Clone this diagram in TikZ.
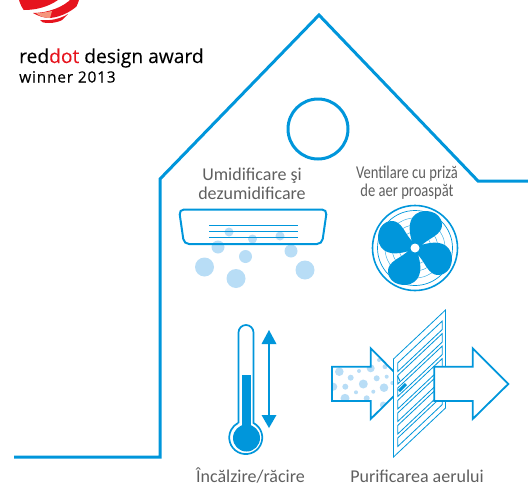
\documentclass[tikz,border=0pt]{standalone}
\usepackage{fontspec}
\setmainfont{Carlito}
\newfontfamily\logofont[FakeBold=0.12]{Open Sans}
\newfontfamily\logospaced[LetterSpace=5,FakeBold=0.12]{Open Sans}
\definecolor{hb}{RGB}{0,150,219}
\definecolor{lb}{RGB}{184,221,246}
\definecolor{tg}{RGB}{95,95,95}
\definecolor{rd}{RGB}{230,20,30}
\definecolor{rl}{RGB}{245,150,125}
\tikzset{
 wall/.style={draw=hb,line width=3pt,line join=miter},
 blob/.style={fill=lb,draw=none},
 fanblade/.style={fill=hb,draw=none},
 slat/.style={draw=hb,line width=.8pt,fill=white},
 lab/.style={text=tg,align=center,inner sep=0pt},
 big/.style={lab,font=\fontsize{18}{20}\selectfont},
 airarrow/.style={draw=hb,line width=1.8pt,line join=miter},
}
\begin{document}
\begin{tikzpicture}[x=1pt,y=-1pt]
\useasboundingbox (0,0) rectangle (528,485);
% logo
\begin{scope}
\clip (0,0) rectangle (528,30);
\clip (49,-8) circle (31);
\fill[rd] (15,-5) -- (60,-5) -- (58,0) .. controls (48,7) and (36,10) .. (24,10) -- (15,8) -- cycle;
\fill[rd] (33,13) .. controls (48,13) and (64,7) .. (72,-2) -- (80,-2) -- (80,3) .. controls (74,10) and (62,17) .. (50,18) .. controls (44,18) and (38,16) .. cycle;
\fill[rl] (36,13) .. controls (42,13) and (47,12) .. (52,11) -- (50,18) .. controls (44,18) and (39,16) .. cycle;
\fill[rd] (40,20) .. controls (50,21) and (60,19) .. (68,14) -- (60,22) -- (46,25) -- cycle;
\end{scope}
\node[anchor=base west,inner sep=0pt,font=\logofont\fontsize{19.2}{21}\selectfont] (award) at (19,63) {red\textcolor{rd}{dot} design award};
\node[anchor=base west,inner sep=0pt,font=\logospaced\fontsize{15.5}{17}\selectfont,text=black] (winner) at (19,82.5) {winner 2013};
% house
\draw[wall] (14,457) -- (160,457) -- (160,179) -- (319,15) -- (478,181) -- (528,181);
\draw[hb,line width=3pt] (318,129) circle (30);
% humidifier
\node[big] (hum) at (252,184) {Umidificare şi\\[-1pt]dezumidificare};
\fill[blob] (229,232) circle (4.5);
\fill[blob] (252.5,239) circle (4.5);
\fill[blob] (280,236) circle (4.5);
\fill[blob] (218,247) circle (6.5);
\fill[blob] (245.5,256.5) circle (6.5);
\fill[blob] (291,251) circle (6.5);
\fill[blob] (204.5,267) circle (9.5);
\fill[blob] (236,278.5) circle (9.5);
\fill[blob] (305,270) circle (9.5);
\draw[hb,line width=2pt,rounded corners=5pt] (179,209.5) -- (327,209.5) -- (322,244) -- (184,244) -- cycle;
\foreach \y in {225.5,231.5,237.5}
  \draw[hb,line width=.8pt] (209,\y) -- (298,\y);
% fan
\node[lab,font=\fontsize{18}{19}\selectfont,xscale=.81] (ven) at (407,183) {Ventilare cu priză\\[-1pt]de aer proaspăt};
\draw[hb,line width=1.6pt] (415,248) circle (42.5);
\draw[hb,line width=.7pt] (415,248) circle (37.5);
\foreach \r in {16,23,30} \draw[hb!75,line width=.5pt] (415,248) circle (\r);
\foreach \a in {0,90,180,270}
  \fill[fanblade,rotate around={\a:(415,248)}] (413,245) .. controls (410,236) and (406,221) .. (416,214) .. controls (424,208) and (441,211) .. (442,224) .. controls (443,235) and (428,238) .. (421,246) -- cycle;
\fill[hb] (415,248) circle (7);
\fill[white] (415,248) circle (4.5);
% thermometer
\draw[hb,line width=1.7pt,fill=white] (238.5,423) -- (238.5,332.5) arc (180:360:7.5) -- (253.5,423) arc (-62:242:16.5);
\fill[hb] (241.7,374.5) rectangle (251,430);
\fill[hb] (246.5,438) circle (13.5);
\draw[hb,line width=2pt] (269,340) -- (269,418);
\fill[hb] (269,330) -- (276.5,344) -- (261.5,344) -- cycle;
\fill[hb] (269,428) -- (276.5,415) -- (261.5,415) -- cycle;
\node[big,anchor=base] (heat) at (250.5,482) {Încălzire/răcire};
% filter: left arrow
\begin{scope}
\clip (332,366.7) -- (370.7,366.7) -- (370.7,348.3) -- (406,384) -- (370.7,419) -- (370.7,401) -- (332,401) -- cycle;
\foreach \x/\y/\r in {339.3/371.7/4.3, 359/371/2, 370.7/368.3/4, 350.7/377.7/3, 363.3/384/4.5, 376.7/378.3/3, 386.7/376.7/2, 384/387.7/4.3, 333.3/386.7/4, 345.3/386.7/3, 356/392.3/2, 373.3/391.7/2, 345/398.3/4.5, 366.7/398.3/3, 383.3/405/3.5, 379/360/2, 385/366.7/2.5, 392.3/383/2}
  \fill[blob] (\x,\y) circle (\r);
\end{scope}
\draw[airarrow] (332,366.7) -- (370.7,366.7) -- (370.7,348.3) -- (406,384) -- (370.7,419) -- (370.7,401) -- (332,401) -- cycle;
% filter: panel
\draw[hb,line width=.8pt,fill=white] (393.5,359) -- (445.5,310) -- (445.5,408) -- (393.5,457) -- cycle;
\foreach \i in {0,...,6}
  \draw[slat] (397.7,{363+\i*12.5}) -- (442.3,{321+\i*12.5}) -- (442.3,{329.5+\i*12.5}) -- (397.7,{371.5+\i*12.5}) -- cycle;
\draw[hb,line width=1pt] (397.5,376) -- (400,381);
\draw[hb,line width=3pt] (399,391) -- (406,384);
% right arrow
\draw[airarrow,fill=white] (434.3,366.7) -- (472.7,366.7) -- (472.7,348.3) -- (508.3,384) -- (472.7,419) -- (472.7,401) -- (434.3,401) -- cycle;
\node[big,anchor=base] (pur) at (417,482.5) {Purificarea aerului};
\end{tikzpicture}
\end{document}
